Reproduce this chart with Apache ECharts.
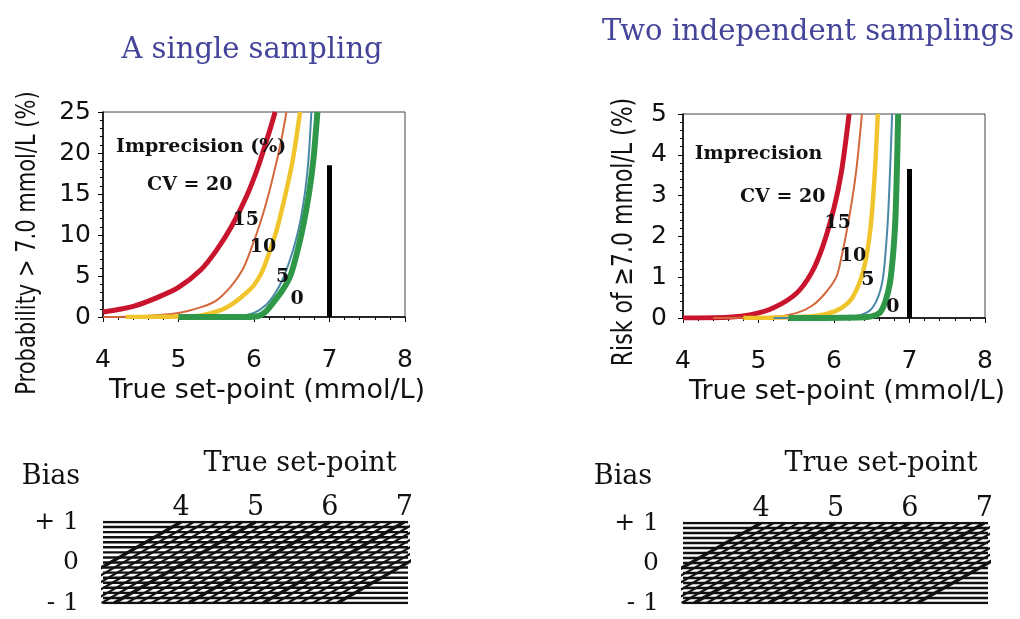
<!DOCTYPE html>
<html>
<head>
<meta charset="utf-8">
<script src="https://cdn.jsdelivr.net/npm/echarts@6/dist/echarts.min.js"></script>
<style>
  html, body { margin: 0; padding: 0; background: #fff; }
  #main { width: 1020px; height: 619px; }
</style>
</head>
<body>
<div id="main"></div>
<script>
// curves, [true set-point (mmol/L), %]
var cvNames = ["20", "15", "10", "5", "0"];

var singleCV20 = [[4.0, 0.6], [4.4, 1.3], [4.7, 2.3], [5.0, 3.6], [5.3, 5.8], [5.5, 8.1], [5.7, 11], [5.9, 14.7], [6.05, 18.2], [6.2, 22.5], [6.28, 25]];
var singleCV15 = [[4.0, 0], [4.5, 0.1], [5.0, 0.5], [5.3, 1.2], [5.5, 2.0], [5.7, 3.8], [5.85, 5.8], [5.95, 8], [6.08, 11.4], [6.18, 14.5], [6.27, 17.8], [6.36, 21.5], [6.43, 25]];
var singleCV10 = [[4.3, 0], [5.0, 0.05], [5.3, 0.2], [5.55, 0.8], [5.73, 1.7], [5.88, 2.8], [6.0, 3.9], [6.1, 5.4], [6.17, 7], [6.3, 10.6], [6.43, 15.5], [6.52, 19.5], [6.61, 25]];
var singleCV5 = [[5.0, 0], [5.8, 0.1], [6.0, 0.5], [6.15, 1.4], [6.28, 2.9], [6.38, 4.6], [6.47, 6.8], [6.55, 9.2], [6.62, 12], [6.68, 15.5], [6.72, 19], [6.76, 25]];
var singleCV0 = [[5.0, 0], [5.8, 0], [6.05, 0.1], [6.15, 0.6], [6.25, 1.7], [6.38, 3.3], [6.48, 5], [6.56, 7.5], [6.63, 10.2], [6.69, 13], [6.74, 15.8], [6.79, 19.5], [6.84, 25]];

var doubleCV20 = [[4.0, 0], [4.6, 0.02], [4.9, 0.08], [5.2, 0.25], [5.5, 0.6], [5.7, 1.1], [5.85, 1.75], [6.0, 2.7], [6.1, 3.6], [6.2, 5]];
var doubleCV15 = [[4.4, 0], [5.2, 0.03], [5.5, 0.12], [5.71, 0.3], [5.88, 0.6], [6.03, 1.0], [6.1, 1.5], [6.17, 2.15], [6.24, 2.9], [6.3, 3.7], [6.37, 5]];
var doubleCV10 = [[4.8, 0], [5.6, 0.03], [5.9, 0.1], [6.1, 0.25], [6.25, 0.52], [6.39, 1.17], [6.48, 2.15], [6.54, 3.55], [6.58, 5]];
var doubleCV5 = [[5.2, 0], [6.2, 0.03], [6.45, 0.15], [6.57, 0.45], [6.65, 1.0], [6.71, 2.3], [6.74, 3.5], [6.77, 5]];
var doubleCV0 = [[5.4, 0], [6.4, 0.02], [6.6, 0.12], [6.68, 0.4], [6.74, 0.85], [6.78, 1.5], [6.81, 2.3], [6.83, 3.4], [6.85, 5]];

// black marker at the 7.0 mmol/L cut-off
var cutOff = 7.0;
var singleBar = 18.5;
var doubleBar = 3.65;

// text inside the plots, [x, y, text]
var singleNotes = [[5.3, 20.7, "Imprecision (%)"], [5.15, 16.1, "CV = 20"], [5.89, 11.8, "15"], [6.12, 8.5, "10"], [6.38, 4.9, "5"], [6.57, 2.2, "0"]];
var doubleNotes = [[5.0, 4.02, "Imprecision"], [5.32, 2.97, "CV = 20"], [6.05, 2.33, "15"], [6.25, 1.52, "10"], [6.45, 0.93, "5"], [6.78, 0.27, "0"]];

// bias nomogram
var nomoMin = 2.95;
var nomoMax = 7.05;
var nomoTicks = [4, 5, 6, 7];
var biasTicks = [-1, 0, 1];
var biasLabels = ["- 1", "0", "+ 1"];
var biasLevels = [-1, -0.875, -0.75, -0.625, -0.5, -0.375, -0.25, -0.125, 0, 0.125, 0.25, 0.375, 0.5, 0.625, 0.75, 0.875, 1];
var setPointLines = [4, 4.17, 4.33, 4.5, 4.67, 4.83, 5, 5.17, 5.33, 5.5, 5.67, 5.83, 6, 6.17, 6.33, 6.5, 6.67, 6.83, 7, 7.17, 7.33, 7.5, 7.67, 7.83, 8];
var biasShift = 1.9; // horizontal run of one set-point line from bias +1 to -1

var curveColors = ["#c8142c", "#d4683c", "#f0c42c", "#4a88a8", "#2f9848"];
var curveWidths = [5, 2, 4.5, 2, 6];
var ink = "#111";
var sans = '"DejaVu Sans", sans-serif';
var serif = '"DejaVu Serif", serif';

var myChart = echarts.init(document.getElementById("main"));

function curves(list, idx) {
  return list.map(function (d, i) {
    return {
      name: "CV " + cvNames[i],
      type: "line",
      xAxisIndex: idx,
      yAxisIndex: idx,
      data: d,
      smooth: 0.3,
      symbol: "none",
      lineStyle: { color: curveColors[i], width: curveWidths[i] },
      z: 3 + i,
      silent: true,
    };
  });
}

function marker(h, idx) {
  return {
    type: "line",
    xAxisIndex: idx,
    yAxisIndex: idx,
    data: [[cutOff, 0], [cutOff, h]],
    symbol: "none",
    lineStyle: { color: "#000", width: 5 },
    z: 10,
    silent: true,
  };
}

function notes(list, idx) {
  return {
    type: "scatter",
    xAxisIndex: idx,
    yAxisIndex: idx,
    data: list,
    symbolSize: 0,
    z: 12,
    silent: true,
    itemStyle: { opacity: 1 },
    label: {
      show: true,
      position: "inside",
      formatter: function (p) { return p.data[2]; },
      fontFamily: serif,
      fontWeight: "bold",
      fontSize: 19,
      color: ink,
      opacity: 1,
    },
  };
}

function nomogram(idx) {
  var out = [];
  biasLevels.forEach(function (b) {
    out.push({
      type: "line", xAxisIndex: idx, yAxisIndex: idx,
      data: [[nomoMin, b], [nomoMax, b]],
      symbol: "none", silent: true,
      lineStyle: { color: "#111", width: 2.4 },
    });
  });
  setPointLines.forEach(function (s) {
    var thick = Math.abs(s - Math.round(s)) < 1e-6;
    out.push({
      type: "line", xAxisIndex: idx, yAxisIndex: idx,
      data: [[s, 1], [s - biasShift, -1]],
      symbol: "none", silent: true,
      lineStyle: { color: "#111", width: thick ? 3.2 : 2.2 },
    });
  });
  return out;
}

function plotX(idx) {
  return {
    gridIndex: idx,
    type: "value",
    min: 4,
    max: 8,
    interval: 1,
    axisLine: { show: true, onZero: false, lineStyle: { color: "#000", width: 1.5 } },
    axisTick: { show: true, length: 5, lineStyle: { color: "#000" } },
    minorTick: { show: true, splitNumber: 5, length: 3, lineStyle: { color: "#000" } },
    splitLine: { show: false },
    axisLabel: { fontFamily: sans, fontSize: 25, color: ink, margin: 31 },
    name: "True set-point (mmol/L)",
    nameLocation: "middle",
    nameGap: 60,
    nameTextStyle: { fontFamily: sans, fontSize: 27, color: ink, padding: [0, 0, 0, 26] },
  };
}

function plotY(idx, max, step, margin) {
  return {
    gridIndex: idx,
    type: "value",
    min: 0,
    max: max,
    interval: step,
    axisLine: { show: true, lineStyle: { color: "#000", width: 1.5 } },
    axisTick: { show: true, length: 5, lineStyle: { color: "#000" } },
    minorTick: { show: true, splitNumber: 5, length: 3, lineStyle: { color: "#000" } },
    splitLine: { show: false },
    axisLabel: { fontFamily: sans, fontSize: 25, color: ink, margin: margin },
  };
}

function nomoX(idx) {
  return {
    gridIndex: idx,
    type: "value",
    position: "top",
    min: nomoMin,
    max: nomoMax,
    axisLine: { show: false },
    axisTick: { show: false },
    splitLine: { show: false },
    axisLabel: { customValues: nomoTicks, fontFamily: serif, fontSize: 27, color: ink, margin: 1 },
  };
}

function nomoY(idx) {
  return {
    gridIndex: idx,
    type: "value",
    min: -1,
    max: 1,
    axisLine: { show: false },
    axisTick: { show: false },
    splitLine: { show: false },
    axisLabel: {
      customValues: biasTicks,
      formatter: function (v) { return biasLabels[biasTicks.indexOf(v)]; },
      fontFamily: serif,
      fontSize: 25,
      color: ink,
      margin: 24,
    },
  };
}

function label(text, x, y, font, color, rot, stretch) {
  return {
    type: "text",
    x: x,
    y: y,
    rotation: rot || 0,
    scaleY: stretch || 1,
    silent: true,
    style: {
      text: text,
      font: font,
      fill: color || ink,
      align: "center",
      verticalAlign: "middle",
      textAlign: "center",
      textVerticalAlign: "middle",
    },
  };
}

var option = {
  backgroundColor: "#fff",
  animation: false,
  grid: [
    { left: 103, top: 112, width: 302, height: 205, show: true, borderColor: "#444", borderWidth: 1 },
    { left: 683, top: 114, width: 302, height: 204, show: true, borderColor: "#444", borderWidth: 1 },
    { left: 103, top: 522, width: 305, height: 81 },
    { left: 683, top: 523, width: 305, height: 80 },
  ],
  xAxis: [plotX(0), plotX(1), nomoX(2), nomoX(3)],
  yAxis: [plotY(0, 25, 5, 12), plotY(1, 5, 1, 16), nomoY(2), nomoY(3)],
  graphic: [
    label("A single sampling", 252, 50, '29px ' + serif, "#44449a"),
    label("Two independent samplings", 808, 32, '29px ' + serif, "#44449a"),
    label("Probability > 7.0 mmol/L (%)", 28, 243, '21px ' + sans, ink, Math.PI / 2, 1.3),
    label("Risk of \u22657.0 mmol/L (%)", 625, 232, '22px ' + sans, ink, Math.PI / 2, 1.3),
    label("Bias", 51, 477, '27px ' + serif),
    label("True set-point", 300, 464, '27px ' + serif),
    label("Bias", 623, 477, '27px ' + serif),
    label("True set-point", 881, 464, '27px ' + serif),
  ],
  series: []
    .concat(curves([singleCV20, singleCV15, singleCV10, singleCV5, singleCV0], 0))
    .concat([marker(singleBar, 0), notes(singleNotes, 0)])
    .concat(curves([doubleCV20, doubleCV15, doubleCV10, doubleCV5, doubleCV0], 1))
    .concat([marker(doubleBar, 1), notes(doubleNotes, 1)])
    .concat(nomogram(2))
    .concat(nomogram(3)),
};

myChart.setOption(option);
window.onresize = function () {
  myChart.resize();
};
</script>
</body>
</html>
